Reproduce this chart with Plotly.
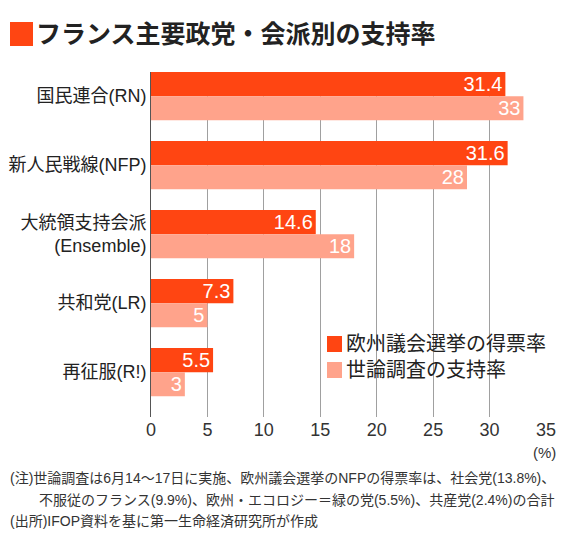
import plotly.graph_objects as go

parties = ["国民連合(RN)", "新人民戦線(NFP)", "大統領支持会派<br>(Ensemble)", "共和党(LR)", "再征服(R!)"]
euro_vote = [31.4, 31.6, 14.6, 7.3, 5.5]
poll = [33, 28, 18, 5, 3]
x_ticks = [0, 5, 10, 15, 20, 25, 30, 35]

dark = "#FF4512"
light = "#FFA38B"
font = "Liberation Sans, Noto Sans CJK JP, sans-serif"

# the page body has an 8px margin, so the figure is 16px smaller than the window
OFF = 8
W, H = 570 - 2 * OFF, 555 - 2 * OFF
# plot area in window pixels
L, R, T, B = 151, 546, 72, 417


def px(x):
    return (x - L) / (R - L)


def py(y):
    return (B - y) / (B - T)


fig = go.Figure()
for vals, name, col in [(euro_vote, "欧州議会選挙の得票率", dark), (poll, "世論調査の支持率", light)]:
    fig.add_trace(go.Bar(y=parties, x=vals, orientation="h", name=name,
                         marker=dict(color=col, line=dict(width=0)),
                         texttemplate="%{x}", textposition="inside", insidetextanchor="end",
                         textangle=0,
                         insidetextfont=dict(color="white", size=20, family=font),
                         constraintext="none"))

# legend: squares + labels
for row_y, name, col in [(344, "欧州議会選挙の得票率", dark), (370, "世論調査の支持率", light)]:
    fig.add_shape(type="rect", xref="paper", yref="paper", x0=px(327), x1=px(342),
                  y0=py(row_y + 8), y1=py(row_y - 8), fillcolor=col, line=dict(width=0))
    fig.add_annotation(x=px(344), y=py(row_y), xref="paper", yref="paper", xanchor="left", yanchor="middle",
                       showarrow=False, text=name, font=dict(size=20, color="#222", family=font))

fig.add_annotation(x=px(544), y=py(452), xref="paper", yref="paper", xanchor="center", yanchor="middle",
                   showarrow=False, text="(%)", font=dict(size=15, color="#333", family=font))

notes = [
    (8, 478, "(注)世論調査は6月14～17日に実施、欧州議会選挙のNFPの得票率は、社会党(13.8%)、"),
    (37, 500, "不服従のフランス(9.9%)、欧州・エコロジー＝緑の党(5.5%)、共産党(2.4%)の合計"),
    (8, 521, "(出所)IFOP資料を基に第一生命経済研究所が作成"),
]
for nx, ny, t in notes:
    fig.add_annotation(x=px(nx), y=py(ny), xref="paper", yref="paper", xanchor="left", yanchor="middle",
                       showarrow=False, text=t, font=dict(size=14, color="#333", family=font))

# title square
fig.add_shape(type="rect", xref="paper", yref="paper", x0=px(10), x1=px(33), y0=py(46), y1=py(22),
              fillcolor=dark, line=dict(width=0))

fig.update_layout(
    width=W, height=H,
    margin=dict(l=L - OFF, r=W - (R - OFF), t=T - OFF, b=H - (B - OFF)),
    paper_bgcolor="white", plot_bgcolor="white",
    barmode="group", bargap=0.3, bargroupgap=0,
    showlegend=False,
    font=dict(family=font, color="#333"),
    title=dict(text="<b>フランス主要政党・会派別の支持率</b>",
               x=(36 - OFF) / W, xanchor="left", y=1 - (34 - OFF) / H, yanchor="middle",
               font=dict(size=25, color="#222", family=font)),
    xaxis=dict(range=[0, 35], tickvals=x_ticks, showgrid=True, gridcolor="#a0a0a0", gridwidth=1,
               zeroline=False, showline=False, ticks="", automargin=False,
               tickfont=dict(size=18, color="#333", family=font)),
    yaxis=dict(range=[4.65, -0.35], showline=True, linecolor="#555", linewidth=1, ticks="",
               showgrid=False, automargin=False,
               tickfont=dict(size=18, color="#222", family=font)),
)

fig.write_html("out.html")
